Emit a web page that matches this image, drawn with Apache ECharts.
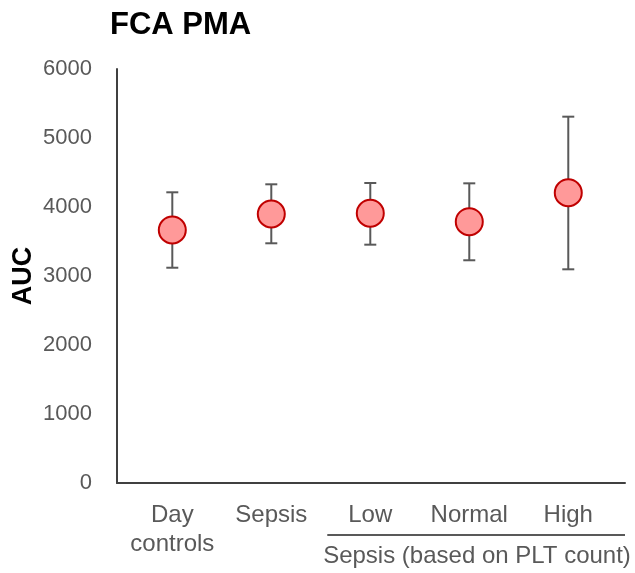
<!DOCTYPE html>
<html>
<head>
<meta charset="utf-8">
<script src="https://cdn.jsdelivr.net/npm/echarts@6/dist/echarts.min.js"></script>
<style>html,body{margin:0;padding:0;background:#fff}#c{width:635px;height:573px}</style>
</head>
<body>
<div id="c"></div>
<script>
var categories = ['Day\ncontrols', 'Sepsis', 'Low', 'Normal', 'High'];
var means = [3667, 3899, 3909, 3787, 4207];
var upper = [4213, 4329, 4348, 4343, 5309];
var lower = [3120, 3474, 3454, 3228, 3097];
var yTicks = [0, 1000, 2000, 3000, 4000, 5000, 6000];
var groupLabel = 'Sepsis (based on PLT count)';
var titleText = 'FCA PMA';
var yName = 'AUC';

var FONT = "'Liberation Sans', Arial, sans-serif";
var chart = echarts.init(document.getElementById('c'), null, {renderer: 'canvas'});

var pointData = means.map(function (v, i) { return [i, v]; });
var errData = means.map(function (v, i) { return [i, lower[i], upper[i]]; });

chart.setOption({
  animation: false,
  backgroundColor: '#ffffff',
  title: {
    text: titleText, left: 105, top: 5,
    textStyle: {fontFamily: FONT, fontSize: 31, fontWeight: 'bold', color: '#000'}
  },
  grid: {left: 117, top: 69, width: 508, height: 414, containLabel: false, outerBoundsMode: 'none'},
  xAxis: {
    type: 'value', min: -0.5586, max: 4.573,
    splitLine: {show: false},
    axisLine: {show: true, onZero: false, lineStyle: {color: '#404040', width: 2}},
    axisTick: {show: false},
    axisLabel: {
      customValues: [0, 1, 2, 3, 4],
      formatter: function (v) { return categories[Math.round(v)]; },
      fontFamily: FONT, fontSize: 24, color: '#595959', lineHeight: 29, margin: 18,
      showMinLabel: true, showMaxLabel: true
    }
  },
  yAxis: {
    type: 'value', min: yTicks[0], max: yTicks[yTicks.length - 1], interval: 1000,
    name: yName, nameLocation: 'middle', nameRotate: 90, nameGap: 80, nameMoveOverlap: false,
    nameTextStyle: {fontFamily: FONT, fontSize: 27, fontWeight: 'bold', color: '#000'},
    splitLine: {show: false},
    axisLine: {show: true, onZero: false, lineStyle: {color: '#404040', width: 2}},
    axisTick: {show: false},
    axisLabel: {
      fontFamily: FONT, fontSize: 22, color: '#595959', margin: 25,
      formatter: function (v) { return String(v); }
    }
  },
  series: [
    {
      type: 'custom',
      data: errData,
      z: 2,
      renderItem: function (params, api) {
        var x = api.value(0);
        var lo = api.coord([x, api.value(1)]);
        var hi = api.coord([x, api.value(2)]);
        var hw = 6;
        var st = {stroke: '#595959', lineWidth: 2};
        return {
          type: 'group',
          children: [
            {type: 'line', shape: {x1: lo[0], y1: lo[1], x2: hi[0], y2: hi[1]}, style: st},
            {type: 'line', shape: {x1: lo[0] - hw, y1: lo[1], x2: lo[0] + hw, y2: lo[1]}, style: st},
            {type: 'line', shape: {x1: hi[0] - hw, y1: hi[1], x2: hi[0] + hw, y2: hi[1]}, style: st}
          ]
        };
      }
    },
    {
      type: 'scatter',
      data: pointData,
      z: 3,
      symbol: 'circle',
      symbolSize: 27,
      itemStyle: {color: '#FF9999', borderColor: '#C00000', borderWidth: 2, opacity: 1}
    }
  ]
});

// group bracket under Low..High
var p2 = chart.convertToPixel({gridIndex: 0}, [2, 0]);
var lineLeft = p2[0] - 43, lineRight = 625;
chart.setOption({
  graphic: [
    {type: 'line', shape: {x1: lineLeft, y1: 535, x2: lineRight, y2: 535},
     style: {stroke: '#595959', lineWidth: 2}},
    {type: 'text', x: 477, y: 556,
     style: {text: groupLabel, font: '24px ' + FONT, fill: '#595959', align: 'center', verticalAlign: 'middle'}}
  ]
});
</script>
</body>
</html>
